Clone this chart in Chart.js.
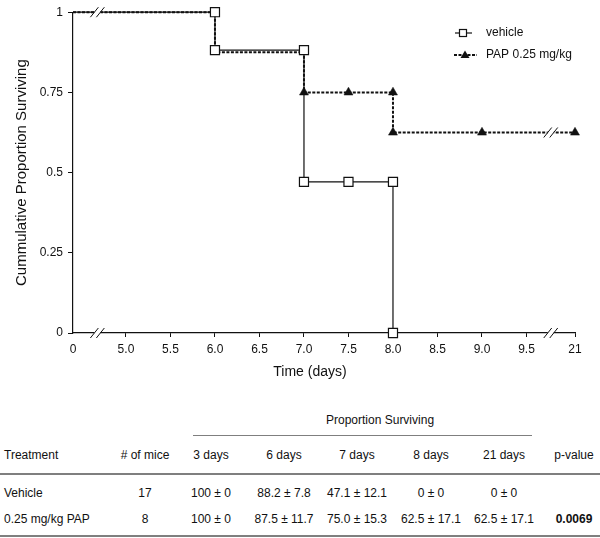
<!DOCTYPE html>
<html>
<head>
<meta charset="utf-8">
<script src="https://cdn.jsdelivr.net/npm/chart.js@4/dist/chart.umd.min.js"></script>
<style>
  html, body { margin: 0; padding: 0; background: #fff; }
  #wrap { position: relative; width: 600px; height: 538px; overflow: hidden;
          font-family: Arial, "Liberation Sans", sans-serif; color: #111; }
  #chart { position: absolute; left: 0; top: 0; }
  .t { position: absolute; font-size: 12px; line-height: 14px; white-space: nowrap; }
  .c { width: 100px; text-align: center; }
  .rule { position: absolute; background: #7f7f7f; }
</style>
</head>
<body>
<div id="wrap">
  <canvas id="chart" width="600" height="390"></canvas>
</div>
<script>
/* ---------- data ---------- */
var TICK_DAYS   = [0, 5.0, 5.5, 6.0, 6.5, 7.0, 7.5, 8.0, 8.5, 9.0, 9.5, 21];
var TICK_LABELS = ['0', '5.0', '5.5', '6.0', '6.5', '7.0', '7.5', '8.0', '8.5', '9.0', '9.5', '21'];
var Y_TICKS     = [0, 0.25, 0.5, 0.75, 1];
var Y_LABELS    = ['0', '0.25', '0.5', '0.75', '1'];

var SERIES_NAMES = ['vehicle', 'PAP 0.25 mg/kg'];
var VEHICLE_DAYS = [0, 6, 6, 7, 7, 7.5, 8, 8];
var VEHICLE_SURV = [1, 1, 0.882, 0.882, 0.471, 0.471, 0.471, 0];
var PAP_DAYS     = [0, 6, 6, 7, 7, 7.5, 8, 8, 9, 21];
var PAP_SURV     = [1, 1, 0.875, 0.875, 0.75, 0.75, 0.75, 0.625, 0.625, 0.625];

// table under the plot
var TABLE_TITLE   = 'Proportion Surviving';
var TABLE_HEAD    = ['Treatment', '# of mice', '3 days', '6 days', '7 days', '8 days', '21 days', 'p-value'];
var TREATMENTS    = ['Vehicle', '0.25 mg/kg PAP'];
var MICE          = ['17', '8'];
var VEHICLE_ROW   = ['100 ± 0', '88.2 ± 7.8', '47.1 ± 12.1', '0 ± 0', '0 ± 0'];
var PAP_ROW       = ['100 ± 0', '87.5 ± 11.7', '75.0 ± 15.3', '62.5 ± 17.1', '62.5 ± 17.1'];
var P_VALUES      = ['', '0.0069'];

/* ---------- broken x axis: 0 | 5.0 .. 9.5 | 21 ---------- */
var GAP_LEFT = 1.19, GAP_RIGHT = 1.09;   // width of the two broken segments, in half-day units
function toAxis(d) {
  if (d <= 5) return d / 5 * GAP_LEFT;
  if (d <= 9.5) return GAP_LEFT + (d - 5) * 2;
  return GAP_LEFT + 9 + (d - 9.5) / 11.5 * GAP_RIGHT;
}
function pts(days, vals) {
  return days.map(function (d, i) { return { x: toAxis(d), y: vals[i] }; });
}

/* ---------- axis-break marks, x title and legend ---------- */
var breakPlugin = {
  id: 'breaks',
  afterDatasetsDraw: function (chart) {
    var ctx = chart.ctx, xs = chart.scales.x, ys = chart.scales.y;
    var bottom = chart.chartArea.bottom;
    var marks = [
      { x: xs.getPixelForValue(GAP_LEFT * 0.46), y: ys.getPixelForValue(1) },
      { x: xs.getPixelForValue(GAP_LEFT * 0.46), y: bottom },
      { x: xs.getPixelForValue(GAP_LEFT + 9 + GAP_RIGHT * 0.5), y: ys.getPixelForValue(0.625) },
      { x: xs.getPixelForValue(GAP_LEFT + 9 + GAP_RIGHT * 0.5), y: bottom }
    ];
    ctx.save();
    marks.forEach(function (m) {
      ctx.fillStyle = '#fff';
      ctx.fillRect(m.x - 3, m.y - 2, 6, 4);
      ctx.strokeStyle = '#111';
      ctx.lineWidth = 1;
      [-3, 3].forEach(function (o) {
        ctx.beginPath();
        ctx.moveTo(m.x + o - 4, m.y + 5);
        ctx.lineTo(m.x + o + 4, m.y - 5);
        ctx.stroke();
      });
    });
    ctx.restore();
  }
};

var xTitlePlugin = {
  id: 'xTitle',
  afterDraw: function (chart) {
    var ctx = chart.ctx;
    ctx.save();
    ctx.font = '14px Arial, "Liberation Sans", sans-serif';
    ctx.fillStyle = '#111';
    ctx.textAlign = 'center';
    ctx.textBaseline = 'middle';
    ctx.fillText('Time (days)', 310, 372);
    ctx.restore();
  }
};

var legendPlugin = {
  id: 'kmLegend',
  afterDraw: function (chart) {
    var ctx = chart.ctx;
    ctx.save();
    ctx.font = '12px Arial, "Liberation Sans", sans-serif';
    ctx.fillStyle = '#111';
    ctx.textBaseline = 'middle';
    // vehicle
    ctx.strokeStyle = '#111';
    ctx.lineWidth = 1.2;
    ctx.beginPath(); ctx.moveTo(455, 33); ctx.lineTo(472, 33); ctx.stroke();
    ctx.fillStyle = '#fff';
    ctx.fillRect(459.5, 29.5, 7, 7);
    ctx.strokeRect(459.5, 29.5, 7, 7);
    // PAP
    ctx.lineWidth = 2;
    ctx.setLineDash([3, 1.5]);
    ctx.beginPath(); ctx.moveTo(454, 55); ctx.lineTo(477, 55); ctx.stroke();
    ctx.setLineDash([]);
    ctx.fillStyle = '#111';
    ctx.beginPath(); ctx.moveTo(465, 50.5); ctx.lineTo(469.5, 58); ctx.lineTo(460.5, 58); ctx.closePath(); ctx.fill();
    ctx.fillText(SERIES_NAMES[0], 486, 33);
    ctx.fillText(SERIES_NAMES[1], 486, 55);
    ctx.restore();
  }
};

Chart.defaults.font.family = 'Arial, "Liberation Sans", sans-serif';
Chart.defaults.color = '#111';

new Chart(document.getElementById('chart').getContext('2d'), {
  type: 'line',
  data: {
    datasets: [
      { // vehicle step line (drawn underneath)
        label: SERIES_NAMES[0],
        data: pts(VEHICLE_DAYS, VEHICLE_SURV),
        borderColor: '#111', borderWidth: 1.2,
        pointRadius: 0, clip: false, order: 3
      },
      { // PAP dashed step line with triangles
        label: SERIES_NAMES[1],
        data: pts(PAP_DAYS, PAP_SURV),
        borderColor: '#111', borderWidth: 2, borderDash: [3, 1.5],
        pointStyle: 'triangle',
        pointRadius: [0, 0, 0, 0, 5.2, 5.2, 5.2, 5.2, 5.2, 5.2],
        pointBackgroundColor: '#111', pointBorderColor: '#111', pointBorderWidth: 0.5,
        clip: false, order: 2
      },
      { // vehicle open squares on top
        label: SERIES_NAMES[0] + ' markers',
        data: pts(VEHICLE_DAYS, VEHICLE_SURV),
        showLine: false,
        pointStyle: 'rect',
        pointRadius: [0, 6.4, 6.4, 6.4, 6.4, 6.4, 6.4, 6.4],
        pointBackgroundColor: '#fff', pointBorderColor: '#111', pointBorderWidth: 1.2,
        clip: false, order: 1
      }
    ]
  },
  options: {
    responsive: false,
    animation: false,
    events: [],
    layout: { padding: { top: 6, right: 25, left: 0, bottom: 0 } },
    plugins: { legend: { display: false }, tooltip: { enabled: false } },
    scales: {
      x: {
        type: 'linear',
        min: 0,
        max: toAxis(21),
        afterBuildTicks: function (scale) {
          scale.ticks = TICK_DAYS.map(function (d) { return { value: toAxis(d) }; });
        },
        afterFit: function (scale) { scale.height = 57; },
        ticks: {
          autoSkip: false, maxRotation: 0, padding: 5,
          font: { size: 12 },
          callback: function (v, i) { return TICK_LABELS[i]; }
        },
        grid: {
          drawOnChartArea: false, drawTicks: true, tickLength: 4,
          tickColor: function (c) { return c.index === 0 ? 'rgba(0,0,0,0)' : '#111'; }
        },
        border: { display: true, color: '#111', width: 1.2 }
      },
      y: {
        min: 0, max: 1,
        afterBuildTicks: function (scale) {
          scale.ticks = Y_TICKS.map(function (v) { return { value: v }; });
        },
        afterFit: function (scale) { scale.width = 73; },
        ticks: {
          padding: 5, font: { size: 12 },
          callback: function (v, i) { return Y_LABELS[i]; }
        },
        grid: { drawOnChartArea: false, drawTicks: true, tickLength: 5, tickColor: '#111' },
        border: { display: true, color: '#111', width: 1.2 },
        title: {
          display: true, text: 'Cummulative Proportion Surviving',
          font: { size: 15 }, padding: { top: 13, bottom: 0 }
        }
      }
    }
  },
  plugins: [breakPlugin, xTitlePlugin, legendPlugin]
});

/* ---------- table ---------- */
(function () {
  var wrap = document.getElementById('wrap');
  var COLS = [145, 211, 284, 357, 431, 504, 574];   // column centres

  function text(str, x, y, centred, bold) {
    var el = document.createElement('div');
    el.className = 't' + (centred ? ' c' : '');
    el.textContent = str;
    el.style.left = (centred ? x - 50 : x) + 'px';
    el.style.top = (y - 7) + 'px';
    if (bold) el.style.fontWeight = 'bold';
    wrap.appendChild(el);
  }
  function rule(x, y, w, h) {
    var el = document.createElement('div');
    el.className = 'rule';
    el.style.left = x + 'px'; el.style.top = y + 'px';
    el.style.width = w + 'px'; el.style.height = h + 'px';
    wrap.appendChild(el);
  }

  text(TABLE_TITLE, 376, 420, true);
  rule(193, 435, 339, 1);

  text(TABLE_HEAD[0], 4, 455);
  for (var c = 1; c < TABLE_HEAD.length; c++) text(TABLE_HEAD[c], COLS[c - 1], 455, true);
  rule(0, 473, 600, 2);

  var rows = [VEHICLE_ROW, PAP_ROW];
  var ys = [493, 519];
  rows.forEach(function (row, r) {
    text(TREATMENTS[r], 4, ys[r]);
    text(MICE[r], COLS[0], ys[r], true);
    row.forEach(function (v, k) { text(v, COLS[k + 1], ys[r], true); });
    if (P_VALUES[r]) text(P_VALUES[r], COLS[6], ys[r], true, true);
  });
  rule(0, 535, 600, 2);
})();
</script>
</body>
</html>
